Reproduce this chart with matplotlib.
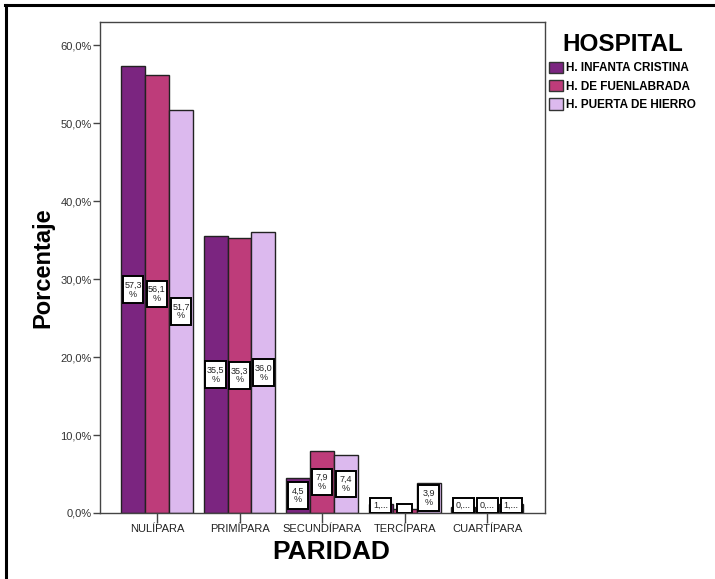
import matplotlib.pyplot as plt
import numpy as np
from matplotlib.lines import Line2D
from matplotlib.patches import Patch, Rectangle

plt.rcParams["font.family"] = ["Liberation Sans", "DejaVu Sans"]

categories = ["NULÍPARA", "PRIMÍPARA", "SECUNDÍPARA", "TERCÍPARA", "CUARTÍPARA"]
hospitals = ["H. INFANTA CRISTINA", "H. DE FUENLABRADA", "H. PUERTA DE HIERRO"]
infanta = [57.3, 35.5, 4.5, 1.2, 0.8]
fuenlabrada = [56.1, 35.3, 7.9, 0.5, 0.7]
hierro = [51.7, 36.0, 7.4, 3.9, 1.1]
yticks = [0, 10, 20, 30, 40, 50, 60]

colors = ["#7b2580", "#be3c7a", "#dcb9ee"]
series = [infanta, fuenlabrada, hierro]

fig = plt.figure(figsize=(7.15, 5.79), dpi=100)
ax = fig.add_axes([100 / 715, 1 - 513 / 579, 445 / 715, 491 / 579])

x = np.arange(len(categories))
w = 0.29


def value_box(xc, y0, bw, bh, txt):
    ax.add_patch(Rectangle((xc - bw / 2, y0), bw, bh, facecolor="white",
                           edgecolor="black", linewidth=1.4, zorder=4))
    ax.text(xc, y0 + bh / 2, txt, ha="center", va="center", fontsize=6.5,
            linespacing=1.0, color="#222222", zorder=5)


for k, (vals, col) in enumerate(zip(series, colors)):
    pos = x + (k - 1) * w
    ax.bar(pos, vals, width=w, color=col, edgecolor="#222222", linewidth=1.0, zorder=2)
    for xi, v in zip(pos, vals):
        if v >= 3:
            txt = f"{v:.1f}".replace(".", ",") + "\n%"
            value_box(xi, v / 2 - 1.7, 0.25, 3.4, txt)
        elif v >= 0.6:
            # narrow bars: the value no longer fits and gets cut
            value_box(xi, 0, w * 0.88, 1.9, f"{int(v)},...")
        else:
            value_box(xi, 0, w * 0.6, 1.2, "")

ax.set_xlim(-0.69, 4.70)
ax.set_ylim(0, 62.95)
ax.set_yticks(yticks)
ax.set_yticklabels([f"{t:.1f}".replace(".", ",") + "%" for t in yticks],
                   fontsize=8, color="#333333")
ax.set_xticks(x)
ax.set_xticklabels(categories, fontsize=8, color="#222222")
ax.tick_params(axis="both", direction="out", length=5, width=1, color="#444444")
ax.tick_params(axis="y", pad=1)
ax.tick_params(axis="x", length=7, pad=1)
for s in ax.spines.values():
    s.set_color("#444444")
    s.set_linewidth(1.0)

ax.set_ylabel("Porcentaje", fontsize=17, fontweight="bold", labelpad=4)
ax.set_xlabel("PARIDAD", fontsize=19, fontweight="bold", labelpad=2)
ax.xaxis.set_label_coords(0.52, -0.055, transform=ax.transAxes)
ax.xaxis.label.set_va("top")

handles = [Patch(facecolor=c, edgecolor="#333333", linewidth=1.0) for c in colors]
leg = fig.legend(handles, hospitals, loc="upper left",
                 bbox_to_anchor=(541 / 715, 1 - 25 / 579), frameon=False,
                 title="HOSPITAL", handlelength=1.15, handleheight=1.15,
                 handletextpad=0.25, labelspacing=0.45, borderpad=0.2,
                 prop={"size": 8.5, "weight": "bold"})
leg.get_title().set_fontsize(17.5)
leg.get_title().set_fontweight("bold")

# outer frame, top and left edges
fig.add_artist(Line2D([5 / 715, 713 / 715], [1 - 5 / 579, 1 - 5 / 579],
                      color="black", lw=2.2, transform=fig.transFigure))
fig.add_artist(Line2D([6 / 715, 6 / 715], [0, 1 - 5 / 579],
                      color="black", lw=2.2, transform=fig.transFigure))

fig.savefig("out.png", dpi=100)
